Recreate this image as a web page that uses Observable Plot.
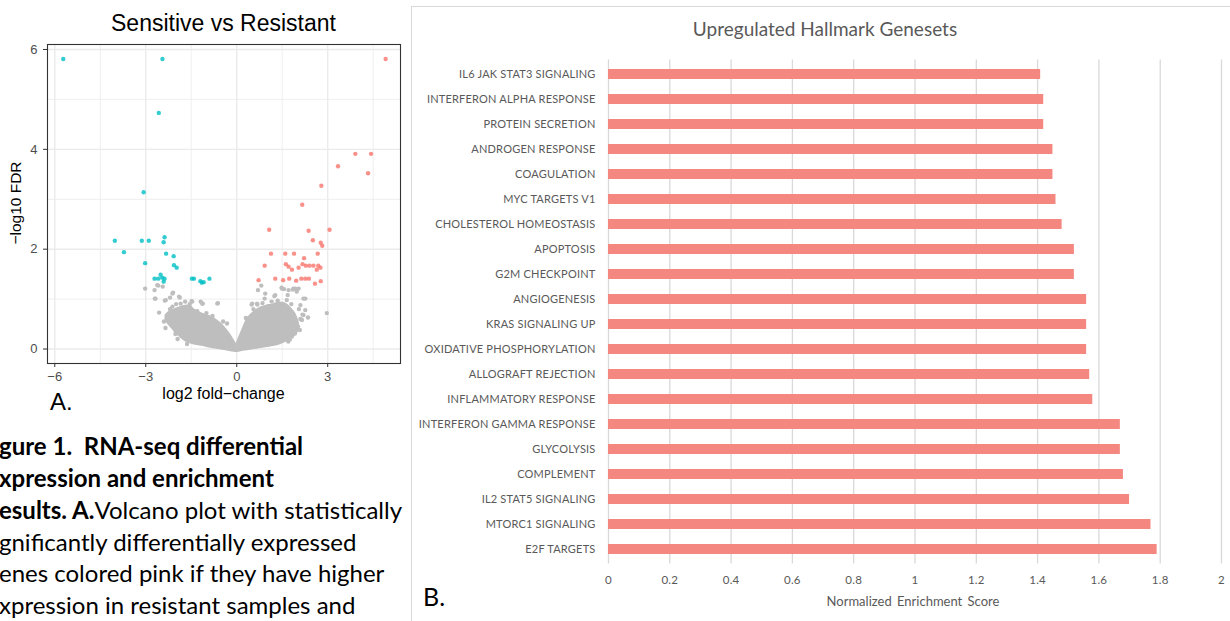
<!DOCTYPE html>
<html>
<head>
<meta charset="utf-8">
<script src="https://cdn.jsdelivr.net/npm/d3@7"></script>
<script src="https://cdn.jsdelivr.net/npm/@observablehq/plot@0.6"></script>
<style>
  html, body { margin: 0; padding: 0; background: #fff; }
  #root { position: relative; width: 1230px; height: 621px; overflow: hidden; background: #fff; }
  .abs { position: absolute; white-space: nowrap; line-height: 1; }
  #bars text { letter-spacing: 0.2px; }
  .cap { position: absolute; white-space: nowrap; line-height: 1; font-family: Lato, "Open Sans", sans-serif; color: #000; }
</style>
</head>
<body>
<div id="root"></div>
<script>
// ---------------- Volcano plot data ----------------
const xMajor = [-6, -3, 0, 3];
const xMinor = [-4.5, -1.5, 1.5, 4.5];
const yMajor = [0, 2, 4, 6];
const yMinor = [1, 3, 5];

// significant, higher in sensitive (cyan)
const cyanX = [-5.72,-2.45,-2.57,-3.07,-4.02,-3.72,-3.13,-2.90,-2.38,-2.41,-2.33,-3.02,-2.08,-2.07,-1.98,-2.51,-2.71,-2.59,-2.46,-2.38,-2.41,-1.48,-1.41,-1.20,-1.15,-1.09,-0.90];
const cyanY = [5.81,5.81,4.73,3.14,2.17,1.94,2.17,2.17,2.24,2.14,1.91,1.72,1.86,1.68,1.63,1.49,1.41,1.41,1.43,1.41,1.35,1.41,1.41,1.36,1.33,1.34,1.41];

// significant, higher in resistant (pink)
const redX = [4.91,3.91,4.43,3.34,4.33,2.79,2.16,1.07,2.37,3.06,2.51,2.77,2.82,1.13,1.60,1.89,2.67,2.22,0.92,1.62,1.71,1.82,2.04,2.17,2.28,2.40,2.53,2.69,2.64,2.76,0.72,1.27,1.53,1.73,1.96,2.13,2.26,2.38,2.58,2.77];
const redY = [5.81,3.91,3.91,3.66,3.52,3.27,2.89,2.39,2.37,2.39,2.18,2.13,2.07,1.91,1.91,1.91,1.91,1.82,1.67,1.70,1.65,1.59,1.63,1.70,1.67,1.67,1.67,1.67,1.59,1.63,1.38,1.41,1.38,1.41,1.37,1.41,1.41,1.41,1.31,1.36];

// not significant, scattered grey points outside the dense cloud
const grayX = [-3.02,-2.71,-2.59,-2.44,-2.68,-2.10,-2.37,-2.20,-2.56,-1.88,-2.12,-1.49,-1.53,-1.19,-1.12,-0.62,-2.02,-2.27,-1.83,-1.64,
  0.70,0.81,1.24,0.92,1.48,1.56,1.68,1.85,1.93,2.04,2.26,2.97,2.35,2.10,2.17,0.49,0.68,1.01,1.22,2.02,1.92,1.75,
  -2.62,-2.70,-2.34,-2.12,-1.90,-1.85,-2.29,-2.18,-2.01,-1.69,-1.47,-1.14,-0.64,-0.32,
  0.51,0.67,0.94,1.05,1.27,1.49,1.71,1.87,1.98,2.20,2.26,2.20,2.15,1.98,1.87,1.82,0.39,0.29,
  -1.30,-1.00,-0.80,-0.45,-2.40,-2.20,-2.00,-1.70,-1.55,-2.35,-1.95,
  0.30,0.55,0.85,1.15,1.35,1.65,1.80,2.05,2.10,1.70,2.08];
const grayY = [1.21,1.18,1.27,1.25,1.01,1.13,0.97,1.03,0.73,1.03,0.85,0.96,0.83,0.95,0.91,0.92,0.30,0.65,0.27,0.10,
  1.18,1.27,1.06,1.01,1.23,1.20,1.08,1.19,1.21,1.21,1.01,0.72,0.63,0.88,0.69,0.89,0.89,0.85,0.85,0.45,0.31,0.19,
  1.28,1.01,0.98,1.11,1.05,0.91,0.65,0.51,0.35,0.28,0.95,0.91,0.91,0.51,
  0.91,0.91,1.11,0.85,1.08,1.21,1.18,1.21,1.15,1.01,0.78,0.68,0.58,0.45,0.35,0.25,0.55,0.31,
  0.76,0.72,0.66,0.55,0.55,0.80,0.90,0.95,0.90,0.42,0.20,
  0.62,0.80,0.92,0.95,0.97,0.98,0.90,0.80,0.60,0.15,0.38];

// dense grey cloud outline (lower and upper edge)
const leftWingX  = [-2.30,-2.20,-2.05,-1.90,-1.75,-1.60,-1.45,-1.30,-1.10,-0.90,-0.70,-0.50,-0.30,-0.15,0.00];
const leftWingLo = [0.58,0.50,0.40,0.30,0.22,0.16,0.13,0.11,0.09,0.06,0.04,0.02,0.00,-0.02,-0.03];
const leftWingHi = [0.66,0.72,0.76,0.80,0.83,0.84,0.78,0.72,0.67,0.63,0.56,0.46,0.31,0.17,0.02];
const rightWingX  = [0.00,0.10,0.25,0.40,0.60,0.80,1.00,1.20,1.40,1.60,1.75,1.90,2.00];
const rightWingLo = [-0.03,-0.02,0.00,0.01,0.03,0.05,0.07,0.09,0.12,0.17,0.22,0.30,0.38];
const rightWingHi = [0.02,0.18,0.40,0.60,0.72,0.80,0.84,0.86,0.90,0.88,0.80,0.68,0.52];

// ---------------- Bar chart data ----------------
const genesets = ["IL6 JAK STAT3 SIGNALING","INTERFERON ALPHA RESPONSE","PROTEIN SECRETION","ANDROGEN RESPONSE","COAGULATION","MYC TARGETS V1","CHOLESTEROL HOMEOSTASIS","APOPTOSIS","G2M CHECKPOINT","ANGIOGENESIS","KRAS SIGNALING UP","OXIDATIVE PHOSPHORYLATION","ALLOGRAFT REJECTION","INFLAMMATORY RESPONSE","INTERFERON GAMMA RESPONSE","GLYCOLYSIS","COMPLEMENT","IL2 STAT5 SIGNALING","MTORC1 SIGNALING","E2F TARGETS"];
const nes = [1.41,1.42,1.42,1.45,1.45,1.46,1.48,1.52,1.52,1.56,1.56,1.56,1.57,1.58,1.67,1.67,1.68,1.70,1.77,1.79];
const barTicks = [0,0.2,0.4,0.6,0.8,1,1.2,1.4,1.6,1.8,2];

// ---------------- build tables ----------------
const zip = (xs, ys) => xs.map((x, i) => ({x, y: ys[i]}));
const cyan = zip(cyanX, cyanY), red = zip(redX, redY), gray = zip(grayX, grayY);
const leftWing = leftWingX.map((x, i) => ({x, lo: leftWingLo[i], hi: leftWingHi[i]}));
const rightWing = rightWingX.map((x, i) => ({x, lo: rightWingLo[i], hi: rightWingHi[i]}));
const bars = genesets.map((s, i) => ({set: s, nes: nes[i]}));

const root = document.getElementById("root");
const fmt = d3.format("d");
const GREY = "#BEBEBE";

const volcano = Plot.plot({
  width: 410, height: 415,
  marginLeft: 47, marginRight: 10, marginTop: 44, marginBottom: 52,
  style: {fontFamily: "'Liberation Sans', Arial, sans-serif", fontSize: "13px", background: "transparent", color: "#4D4D4D"},
  x: {domain: [-6.24, 5.4]},
  y: {domain: [-0.29, 6.1]},
  marks: [
    Plot.ruleX(xMinor, {stroke: "#EBEBEB", strokeWidth: 0.8}),
    Plot.ruleY(yMinor, {stroke: "#EBEBEB", strokeWidth: 0.8}),
    Plot.ruleX(xMajor, {stroke: "#EBEBEB", strokeWidth: 1.4}),
    Plot.ruleY(yMajor, {stroke: "#EBEBEB", strokeWidth: 1.4}),
    Plot.areaY(leftWing, {x: "x", y1: "lo", y2: "hi", fill: GREY, stroke: GREY, strokeWidth: 4, curve: "catmull-rom"}),
    Plot.areaY(rightWing, {x: "x", y1: "lo", y2: "hi", fill: GREY, stroke: GREY, strokeWidth: 4, curve: "catmull-rom"}),
    Plot.dot(gray, {x: "x", y: "y", r: 2.2, fill: GREY, stroke: null}),
    Plot.dot(cyan, {x: "x", y: "y", r: 2.2, fill: "#00BFC4", fillOpacity: 0.8, stroke: null}),
    Plot.dot(red, {x: "x", y: "y", r: 2.2, fill: "#F8766D", fillOpacity: 0.8, stroke: null}),
    Plot.frame({stroke: "#333333", strokeWidth: 1.1}),
    Plot.axisX({ticks: xMajor, tickSize: 4, tickPadding: 4, tickFormat: fmt, label: null, stroke: "#333333", fill: "#4D4D4D"}),
    Plot.axisY({ticks: yMajor, tickSize: 4, tickPadding: 6, tickFormat: fmt, label: null, stroke: "#333333", fill: "#4D4D4D"})
  ]
});
volcano.style.position = "absolute";
volcano.style.left = "0px";
volcano.style.top = "0px";
root.appendChild(volcano);

// bar chart panel border
const panel = document.createElement("div");
Object.assign(panel.style, {position: "absolute", left: "411px", top: "6px", width: "840px", height: "700px", border: "1px solid #D9D9D9", boxSizing: "border-box"});
root.appendChild(panel);

const barChart = Plot.plot({
  width: 819, height: 615,
  marginLeft: 197, marginRight: 9, marginTop: 53.4, marginBottom: 57.6,
  style: {fontFamily: "Lato, 'Open Sans', sans-serif", fontSize: "11px", background: "transparent", color: "#595959"},
  x: {domain: [0, 2]},
  y: {domain: genesets, paddingInner: 0.6, paddingOuter: 0.3},
  marks: [
    Plot.ruleX(barTicks, {stroke: "#D9D9D9", strokeWidth: 1.3}),
    Plot.barX(bars, {x: "nes", y: "set", fill: "#F4877F"}),
    Plot.axisX({ticks: barTicks, tickSize: 0, tickPadding: 12, tickFormat: d => d3.format("~g")(d), label: null, fontSize: 11.5}),
    Plot.axisY({tickSize: 0, tickPadding: 13, label: null, fontSize: 11})
  ]
});
barChart.id = "bars";
barChart.style.position = "absolute";
barChart.style.left = "411px";
barChart.style.top = "6px";
root.appendChild(barChart);

// ---------------- text helpers ----------------
function label(text, {x, base, size, font = "sans", anchor = "start", color = "#000", weight = "normal", rotate = false, spacing = null}) {
  const k = font === "lato" ? 0.887 : 0.8465;
  const family = font === "lato" ? "Lato, 'Open Sans', sans-serif" : "'Liberation Sans', Arial, sans-serif";
  const d = document.createElement("div");
  d.className = "abs";
  d.textContent = text;
  const tx = anchor === "middle" ? "-50%" : anchor === "end" ? "-100%" : "0";
  Object.assign(d.style, {left: x + "px", top: base + "px", fontSize: size + "px", fontFamily: family, color, fontWeight: weight, transformOrigin: "0 0",
    transform: (rotate ? "rotate(-90deg) " : "") + `translate(${tx}, -${k}em)`});
  if (spacing) d.style.wordSpacing = spacing;
  root.appendChild(d);
  return d;
}

// volcano texts
label("Sensitive vs Resistant", {x: 223.5, base: 31, size: 23, anchor: "middle"});
label("log2 fold\u2212change", {x: 223.5, base: 400, size: 16, anchor: "middle"});
label("\u2212log10 FDR", {x: 21, base: 0, size: 15.5, anchor: "middle", rotate: true}).style.top = "203px";
label("A.", {x: 50, base: 410, size: 24});

// bar chart texts
label("Upregulated Hallmark Genesets", {x: 825, base: 36, size: 19, font: "lato", anchor: "middle", color: "#595959"});
label("Normalized Enrichment Score", {x: 913, base: 607, size: 13, font: "lato", anchor: "middle", color: "#595959", spacing: "2px"});
label("B.", {x: 423, base: 606, size: 25, font: "lato"});

// figure caption (clipped at the left edge as in the picture)
const capLines = [
  {base: 455, html: '<b><span class="pre">Fi</span>gure 1.&nbsp; RNA-seq differential</b>'},
  {base: 487, html: '<b><span class="pre">e</span>xpression and enrichment</b>'},
  {base: 519, html: '<b><span class="pre">r</span>esults. A.</b>Volcano plot with statistically'},
  {base: 551, html: '<span class="pre">si</span>gnificantly differentially expressed'},
  {base: 582.5, html: '<span class="pre">g</span>enes colored pink if they have higher'},
  {base: 614, html: '<span class="pre">e</span>xpression in resistant samples and'}
];
const capSize = 24;
for (const line of capLines) {
  const d = document.createElement("div");
  d.className = "cap";
  d.innerHTML = line.html;
  d.style.fontSize = capSize + "px";
  d.style.top = (line.base - 0.887 * capSize) + "px";
  root.appendChild(d);
  const pre = d.querySelector(".pre");
  d.style.left = (-pre.getBoundingClientRect().width - 1) + "px";
}
</script>
</body>
</html>
